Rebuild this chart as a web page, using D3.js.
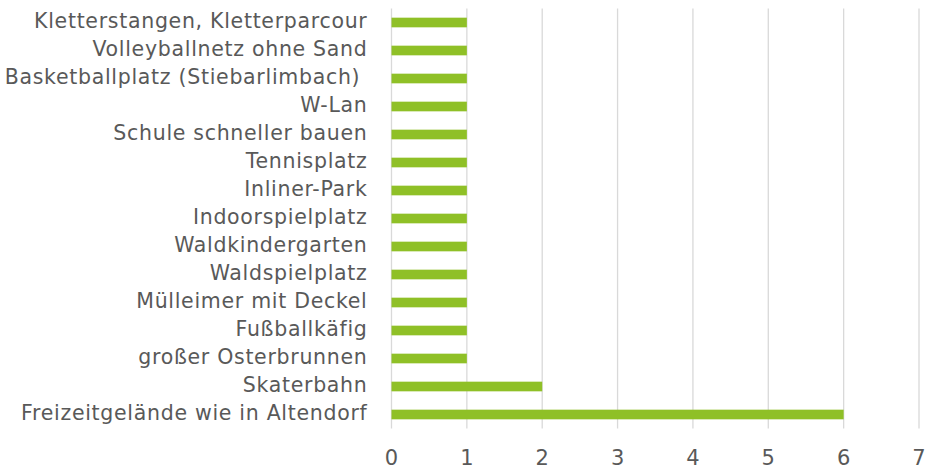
<!DOCTYPE html>
<html>
<head>
<meta charset="utf-8">
<script src="https://cdn.jsdelivr.net/npm/d3@7"></script>
<style>
  body { margin: 0; background: #fff; }
  svg text { font-family: "DejaVu Sans", sans-serif; fill: #595959; }
</style>
</head>
<body>
<main></main>
<script>
// categories, top to bottom
const CATEGORIES = [
  "Kletterstangen, Kletterparcour",
  "Volleyballnetz ohne Sand",
  "Basketballplatz (Stiebarlimbach) ",
  "W-Lan",
  "Schule schneller bauen",
  "Tennisplatz",
  "Inliner-Park",
  "Indoorspielplatz",
  "Waldkindergarten",
  "Waldspielplatz",
  "Mülleimer mit Deckel",
  "Fußballkäfig",
  "großer Osterbrunnen",
  "Skaterbahn",
  "Freizeitgelände wie in Altendorf"
];
const VALUES = [1, 1, 1, 1, 1, 1, 1, 1, 1, 1, 1, 1, 1, 2, 6];
const TICKS = [0, 1, 2, 3, 4, 5, 6, 7];

const W = 926, H = 469;
const margin = {top: 8.5, right: 7, bottom: 40.5, left: 391.5}
    , width = W - margin.left - margin.right
    , height = H - margin.top - margin.bottom;

const data = CATEGORIES.map((c, i) => ({name: c, value: VALUES[i]}));

const x = d3.scaleLinear()
    .domain([0, 7])
    .range([0, width]);

const y = d3.scaleBand()
    .domain(CATEGORIES)
    .range([0, height])
    .paddingInner(0.655)
    .paddingOuter(0.3275);

const svg = d3.select("main").append("svg")
    .attr("width", W)
    .attr("height", H)
  .append("g")
    .attr("transform", `translate(${margin.left}, ${margin.top})`);

// vertical grid lines
svg.selectAll(".grid")
    .data(TICKS)
  .enter().append("line")
    .attr("class", "grid")
    .attr("x1", d => x(d))
    .attr("x2", d => x(d))
    .attr("y1", 0)
    .attr("y2", height)
    .style("stroke", "#d9d9d9")
    .style("stroke-width", 1.3);

// bars
svg.selectAll(".bar")
    .data(data)
  .enter().append("rect")
    .attr("class", "bar")
    .attr("x", x(0))
    .attr("y", d => y(d.name))
    .attr("width", d => x(d.value) - x(0))
    .attr("height", y.bandwidth())
    .style("fill", "#8fc027");

// x tick labels
svg.selectAll(".xlab")
    .data(TICKS)
  .enter().append("text")
    .attr("class", "xlab")
    .attr("x", d => x(d))
    .attr("y", height + 36)
    .style("text-anchor", "middle")
    .style("font-size", "21px")
    .text(d => d);

// category labels
svg.selectAll(".ylab")
    .data(CATEGORIES)
  .enter().append("text")
    .attr("class", "ylab")
    .attr("x", -24)
    .attr("y", d => y(d) + y.bandwidth() / 2)
    .attr("dy", ".28em")
    .style("text-anchor", "end")
    .style("font-size", "20.5px")
    .style("letter-spacing", "0.7px")
    .style("white-space", "pre")
    .text(d => d);
</script>
</body>
</html>
